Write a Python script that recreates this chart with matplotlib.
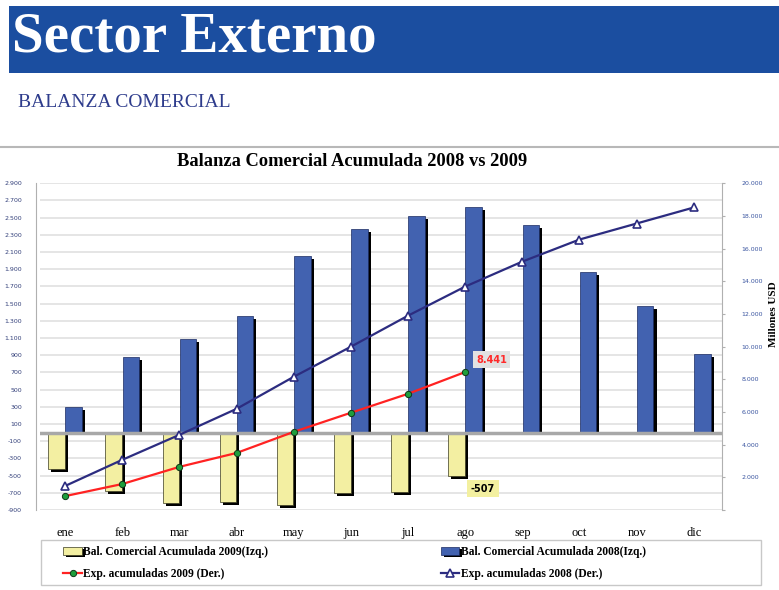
import matplotlib
matplotlib.use("Agg")
import matplotlib.pyplot as plt
import matplotlib.patheffects as pe
from matplotlib.lines import Line2D
from matplotlib.patches import Rectangle
from matplotlib.ticker import FuncFormatter, MultipleLocator
import numpy as np

meses = ["ene", "feb", "mar", "abr", "may", "jun", "jul", "ago", "sep", "oct", "nov", "dic"]

# balanza comercial acumulada (millones USD, eje izquierdo)
bal_2009 = [-424, -679, -818, -806, -841, -702, -691, -507]
bal_2008 = [300, 880, 1090, 1355, 2050, 2365, 2515, 2620, 2410, 1865, 1470, 915]

# exportaciones acumuladas (millones USD, eje derecho)
exp_2009 = [850, 1590, 2640, 3490, 4780, 5950, 7110, 8441]
exp_2008 = [1470, 3070, 4600, 6190, 8150, 9990, 11890, 13670, 15200, 16550, 17530, 18510]

serif = "Liberation Serif"
azul_titulo = "#1B4EA0"
azul_barra = "#4262B0"
amarillo = "#F3EFA2"
morado = "#2C2C80"


def miles(v, pos=None):
    return f"{int(v):,}".replace(",", ".")


fig = plt.figure(figsize=(7.79, 5.90), dpi=100)

# encabezado
fig.add_artist(Rectangle((0.011, 0.877), 0.989, 0.112, transform=fig.transFigure,
                         facecolor=azul_titulo, edgecolor="none"))
fig.text(0.015, 0.912, "Sector Externo", color="white", fontsize=41,
         fontweight="bold", family=serif, va="baseline", ha="left")
fig.text(0.023, 0.826, "BALANZA COMERCIAL", color="#2E3C8C", fontsize=14,
         family=serif, va="center", ha="left")
fig.add_artist(Line2D([0, 1], [0.751, 0.751], transform=fig.transFigure,
                      color="#b8b8b8", lw=1.5))
fig.text(0.452, 0.727, "Balanza Comercial Acumulada 2008 vs 2009", fontsize=13.3,
         fontweight="bold", family=serif, ha="center", va="center")

ax = fig.add_axes([0.0513, 0.1356, 0.876, 0.554])
x = np.arange(len(meses))
w = 0.29
sombra = [pe.SimplePatchShadow(offset=(2.2, -2), shadow_rgbFace="black", alpha=1),
          pe.Normal()]

b09 = ax.bar(x[:len(bal_2009)] - 0.15, bal_2009, w, color=amarillo,
             edgecolor="#3a3a20", lw=0.5, zorder=3,
             label="Bal. Comercial Acumulada 2009(Izq.)")
b08 = ax.bar(x + 0.15, bal_2008, w, color=azul_barra, edgecolor="#1a2a60",
             lw=0.5, zorder=3, label="Bal. Comercial Acumulada 2008(Izq.)")
for r in list(b09) + list(b08):
    r.set_path_effects(sombra)

ax.axhline(0, color="#a8a8a8", lw=2.5, zorder=4)
ax.set_xlim(-0.44, 11.5)
ax.set_ylim(-900, 2900)
ax.set_yticks(np.arange(-900, 2901, 200))
ax.yaxis.set_major_formatter(FuncFormatter(miles))
ax.grid(axis="y", color="#e0e0e0", lw=1.2, zorder=0)
ax.set_xticks(x)
ax.set_xticklabels(meses, family=serif, fontsize=9)
ax.tick_params(axis="x", length=0, pad=12)
ax.tick_params(axis="y", labelsize=4.5, length=0, pad=10, labelcolor="#33407a")
for s in ["top", "bottom", "right"]:
    ax.spines[s].set_visible(False)
ax.spines["left"].set_color("#b0b0b0")
ax.spines["left"].set_position(("outward", 3))

ax2 = ax.twinx()
l09, = ax2.plot(x[:len(exp_2009)], exp_2009, color="#FF2222", lw=1.6,
                marker="o", ms=4.5, mfc="#1E9E3C", mec="#103818", mew=0.7,
                zorder=5, label="Exp. acumuladas 2009 (Der.)")
l08, = ax2.plot(x, exp_2008, color=morado, lw=1.6, marker="^", ms=6,
                mfc="white", mec=morado, mew=1.2, zorder=5,
                label="Exp. acumuladas 2008 (Der.)")
ax2.set_ylim(0, 20000)
ax2.yaxis.set_major_locator(MultipleLocator(2000))
ax2.yaxis.set_major_formatter(FuncFormatter(lambda v, p: "" if v == 0 else miles(v)))
ax2.tick_params(axis="y", labelsize=4.5, length=2, pad=12, labelcolor="#3a55a0",
                color="#b0b0b0")
for s in ["top", "bottom", "left"]:
    ax2.spines[s].set_visible(False)
ax2.spines["right"].set_color("#b0b0b0")
ax2.set_ylabel("Millones USD", family=serif, fontweight="bold", fontsize=8)
ax2.yaxis.set_label_coords(1.068, 0.6)

# etiquetas de datos en agosto
i = len(exp_2009) - 1
ax2.annotate(miles(exp_2009[i]), (x[i], exp_2009[i]), xytext=(19, 9),
             textcoords="offset points", color="#FF2A2A", fontsize=7,
             fontweight="bold", ha="center", va="center", zorder=6,
             bbox=dict(boxstyle="square,pad=0.35", fc="#e2e2e2", ec="none"))
j = len(bal_2009) - 1
ax.annotate(miles(bal_2009[j]), (x[j] - 0.15, bal_2009[j]), xytext=(19, -9),
            textcoords="offset points", color="black", fontsize=7,
            fontweight="bold", ha="center", va="center", zorder=6,
            bbox=dict(boxstyle="square,pad=0.35", fc="#F3F0A0", ec="none"))

# marco de la leyenda
fig.add_artist(Rectangle((0.052, 0.008), 0.925, 0.077, transform=fig.transFigure,
                         facecolor="white", edgecolor="#c8c8c8", lw=1.0))
leg = fig.legend([b09, l09, b08, l08],
                 [b09.get_label(), l09.get_label(), b08.get_label(), l08.get_label()],
                 ncol=2, loc="center", bbox_to_anchor=(0.455, 0.046),
                 frameon=False, prop={"family": serif, "weight": "bold", "size": 8.3},
                 handlelength=1.6, handletextpad=0.1, labelspacing=0.9,
                 borderpad=0.2, columnspacing=15)

fig.savefig("out.png", dpi=100)
